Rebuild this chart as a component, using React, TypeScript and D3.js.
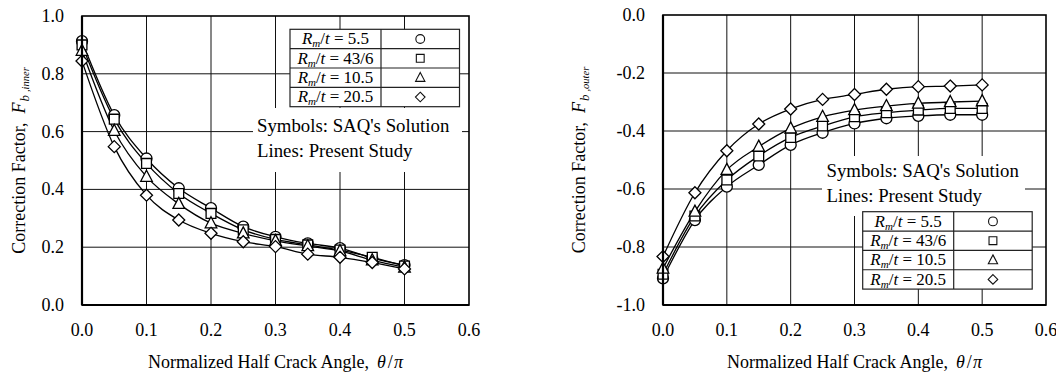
import React, { useEffect, useRef } from "react";
import * as d3 from "d3";

// normalized half crack angle theta/pi
const angles = [0, 0.05, 0.1, 0.15, 0.2, 0.25, 0.3, 0.35, 0.4, 0.45, 0.5];
const xTicks = [0, 0.1, 0.2, 0.3, 0.4, 0.5, 0.6];
const innerTicks = [0, 0.2, 0.4, 0.6, 0.8, 1.0];
const outerTicks = [-1.0, -0.8, -0.6, -0.4, -0.2, 0];

const ratioLabels = ["5.5", "43/6", "10.5", "20.5"];
const shapes = ["circle", "square", "triangle", "diamond"];

// F_b,inner  (Rm/t = 5.5, 43/6, 10.5, 20.5)
const innerCircle = [0.913, 0.657, 0.507, 0.404, 0.335, 0.271, 0.236, 0.213, 0.197, 0.162, 0.138];
const innerSquare = [0.9, 0.643, 0.49, 0.386, 0.317, 0.26, 0.227, 0.208, 0.19, 0.165, 0.135];
const innerTriangle = [0.88, 0.603, 0.444, 0.35, 0.283, 0.248, 0.222, 0.204, 0.187, 0.155, 0.13];
const innerDiamond = [0.844, 0.548, 0.38, 0.294, 0.248, 0.219, 0.202, 0.176, 0.165, 0.147, 0.125];

// F_b,outer
const outerCircle = [-0.908, -0.707, -0.592, -0.517, -0.448, -0.406, -0.374, -0.356, -0.348, -0.344, -0.344];
const outerSquare = [-0.894, -0.693, -0.569, -0.486, -0.422, -0.383, -0.351, -0.337, -0.328, -0.322, -0.322];
const outerTriangle = [-0.874, -0.678, -0.534, -0.454, -0.391, -0.351, -0.328, -0.314, -0.305, -0.3, -0.297];
const outerDiamond = [-0.833, -0.613, -0.468, -0.376, -0.324, -0.291, -0.274, -0.256, -0.247, -0.245, -0.241];

const FONT = "'Liberation Serif', 'Times New Roman', serif";
const fmt = (v: number) => d3.format(".1f")(v).replace("−", "-");

const markerPath = (shape: string, big: boolean) => {
  const k = big ? 1 : 0.8;
  if (shape === "circle") {
    const r = 5.5 * k;
    return `M${-r},0a${r},${r} 0 1,0 ${2 * r},0a${r},${r} 0 1,0 ${-2 * r},0Z`;
  }
  if (shape === "square") {
    const s = 4.9 * k;
    return `M${-s},${-s}h${2 * s}v${2 * s}h${-2 * s}Z`;
  }
  if (shape === "triangle") {
    return `M0,${-6.5 * k}L${5.8 * k},${4.6 * k}L${-5.8 * k},${4.6 * k}Z`;
  }
  const d = 6 * k;
  return `M0,${-d}L${d},0L0,${d}L${-d},0Z`;
};

interface Panel {
  left: number;
  right: number;
  top: number;
  bottom: number;
  yDomain: [number, number];
  yTicks: number[];
  series: number[][];
  sub: string;
  titleX: number;
  table: { x: number; y: number };
  note: { x: number; y: number; box: [number, number, number, number] };
}

const drawPanel = (svg: d3.Selection<SVGSVGElement, unknown, null, undefined>, p: Panel) => {
  const x = d3.scaleLinear().domain([0, 0.6]).range([p.left, p.right]);
  const y = d3.scaleLinear().domain(p.yDomain).range([p.bottom, p.top]);
  const g = svg.append("g");

  // grid
  g.selectAll(".vgrid")
    .data(xTicks.slice(1, -1))
    .enter()
    .append("line")
    .attr("x1", d => x(d)).attr("x2", d => x(d))
    .attr("y1", p.top).attr("y2", p.bottom)
    .attr("stroke", "#111").attr("stroke-width", 1);
  g.selectAll(".hgrid")
    .data(p.yTicks.slice(1, -1))
    .enter()
    .append("line")
    .attr("x1", p.left).attr("x2", p.right)
    .attr("y1", d => y(d)).attr("y2", d => y(d))
    .attr("stroke", "#111").attr("stroke-width", 1);

  // tick labels
  g.selectAll(".xl")
    .data(xTicks)
    .enter()
    .append("text")
    .attr("x", d => x(d))
    .attr("y", 336)
    .attr("text-anchor", "middle")
    .style("font-size", "18px")
    .text(d => fmt(d));
  g.selectAll(".yl")
    .data(p.yTicks)
    .enter()
    .append("text")
    .attr("x", p.left - 18)
    .attr("y", d => y(d) + 6)
    .attr("text-anchor", "end")
    .style("font-size", "18px")
    .text(d => fmt(d));

  // axis titles
  const xt = g.append("text")
    .attr("x", (p.left + p.right) / 2)
    .attr("y", 368)
    .attr("text-anchor", "middle")
    .style("font-size", "18px");
  xt.append("tspan").text("Normalized Half Crack Angle,");
  xt.append("tspan").attr("dx", 8).style("font-style", "italic").text("θ");
  xt.append("tspan").attr("dx", 2).text("/");
  xt.append("tspan").attr("dx", 1).style("font-style", "italic").text("π");

  const yt = g.append("text")
    .attr("transform", `translate(${p.titleX},${(p.top + p.bottom) / 2}) rotate(-90)`)
    .attr("text-anchor", "middle")
    .style("font-size", "18px");
  yt.append("tspan").text("Correction Factor,");
  yt.append("tspan").attr("dx", 9).style("font-style", "italic").text("F");
  yt.append("tspan").attr("dy", 4).attr("dx", 1).style("font-style", "italic").style("font-size", "13px").text("b");
  yt.append("tspan").attr("dx", 3).style("font-style", "italic").style("font-size", "10.5px").text("," + p.sub);

  // note box
  const [bx, by, bw, bh] = p.note.box;
  g.append("rect").attr("x", bx).attr("y", by).attr("width", bw).attr("height", bh).attr("fill", "#fff");
  g.append("text").attr("x", p.note.x).attr("y", p.note.y).style("font-size", "18.8px").text("Symbols: SAQ's Solution");
  g.append("text").attr("x", p.note.x).attr("y", p.note.y + 25).style("font-size", "18.8px").text("Lines: Present Study");

  // legend table
  const rowH = 19.35;
  const colA = 91;
  const colB = 78.5;
  const t = g.append("g").attr("transform", `translate(${p.table.x},${p.table.y})`);
  t.append("rect").attr("width", colA + colB).attr("height", rowH * 4)
    .attr("fill", "#fff").attr("stroke", "#222").attr("stroke-width", 1.2);
  t.append("line").attr("x1", colA).attr("x2", colA).attr("y1", 0).attr("y2", rowH * 4)
    .attr("stroke", "#222").attr("stroke-width", 1.2);
  ratioLabels.forEach((lab, i) => {
    if (i > 0) {
      t.append("line").attr("x1", 0).attr("x2", colA + colB).attr("y1", i * rowH).attr("y2", i * rowH)
        .attr("stroke", "#222").attr("stroke-width", 1.2);
    }
    const tx = t.append("text")
      .attr("x", colA / 2)
      .attr("y", i * rowH + 15)
      .attr("text-anchor", "middle")
      .style("font-size", "17px");
    tx.append("tspan").style("font-style", "italic").text("R");
    tx.append("tspan").attr("dy", 3).style("font-style", "italic").style("font-size", "11px").text("m");
    tx.append("tspan").attr("dy", -3).text("/");
    tx.append("tspan").style("font-style", "italic").text("t");
    tx.append("tspan").text(" = " + lab);
    t.append("path")
      .attr("d", markerPath(shapes[i], false))
      .attr("transform", `translate(${colA + colB / 2},${i * rowH + rowH / 2})`)
      .attr("fill", "#fff").attr("stroke", "#111").attr("stroke-width", 1.1);
  });

  // curves
  const line = d3.line<number>()
    .x((_, i) => x(angles[i]))
    .y(d => y(d))
    .curve(d3.curveMonotoneX);
  p.series.forEach(s => {
    g.append("path").attr("d", line(s)).attr("fill", "none").attr("stroke", "#000").attr("stroke-width", 1.3);
  });

  // markers
  p.series.forEach((s, k) => {
    g.selectAll(".m" + k)
      .data(s)
      .enter()
      .append("path")
      .attr("d", markerPath(shapes[k], true))
      .attr("transform", (d, i) => `translate(${x(angles[i])},${y(d)})`)
      .attr("fill", "#fff").attr("stroke", "#000").attr("stroke-width", 1.3);
  });

  // frame
  g.append("rect")
    .attr("x", p.left).attr("y", p.top)
    .attr("width", p.right - p.left).attr("height", p.bottom - p.top)
    .attr("fill", "none").attr("stroke", "#000").attr("stroke-width", 1.6);
  g.append("line").attr("x1", p.left).attr("x2", p.left).attr("y1", p.top).attr("y2", p.bottom)
    .attr("stroke", "#000").attr("stroke-width", 2.2);
  g.append("line").attr("x1", p.left).attr("x2", p.right).attr("y1", p.bottom).attr("y2", p.bottom)
    .attr("stroke", "#000").attr("stroke-width", 2.2);
};

const App: React.FC = () => {
  const svgRef = useRef<SVGSVGElement | null>(null);

  useEffect(() => {
    d3.select(svgRef.current).selectAll("*").remove();
    const svg = d3.select(svgRef.current!)
      .attr("width", 1056)
      .attr("height", 376)
      .style("background-color", "#ffffff")
      .style("font-family", FONT);

    drawPanel(svg, {
      left: 82, right: 469, top: 16, bottom: 305,
      yDomain: [0, 1], yTicks: innerTicks,
      series: [innerCircle, innerSquare, innerTriangle, innerDiamond],
      sub: "inner", titleX: 25,
      table: { x: 290, y: 29.3 },
      note: { x: 257, y: 131.7, box: [253, 108, 209, 64] },
    });

    drawPanel(svg, {
      left: 663, right: 1046, top: 15, bottom: 305,
      yDomain: [-1, 0], yTicks: outerTicks,
      series: [outerCircle, outerSquare, outerTriangle, outerDiamond],
      sub: "outer", titleX: 585,
      table: { x: 862.7, y: 211.7 },
      note: { x: 826.5, y: 176.7, box: [822, 156, 203, 60] },
    });
  }, []);

  return (
    <div style={{ position: "absolute", left: 0, top: 0, width: 1056, height: 376 }}>
      <svg ref={svgRef} style={{ display: "block" }}></svg>
    </div>
  );
};

export default App;
